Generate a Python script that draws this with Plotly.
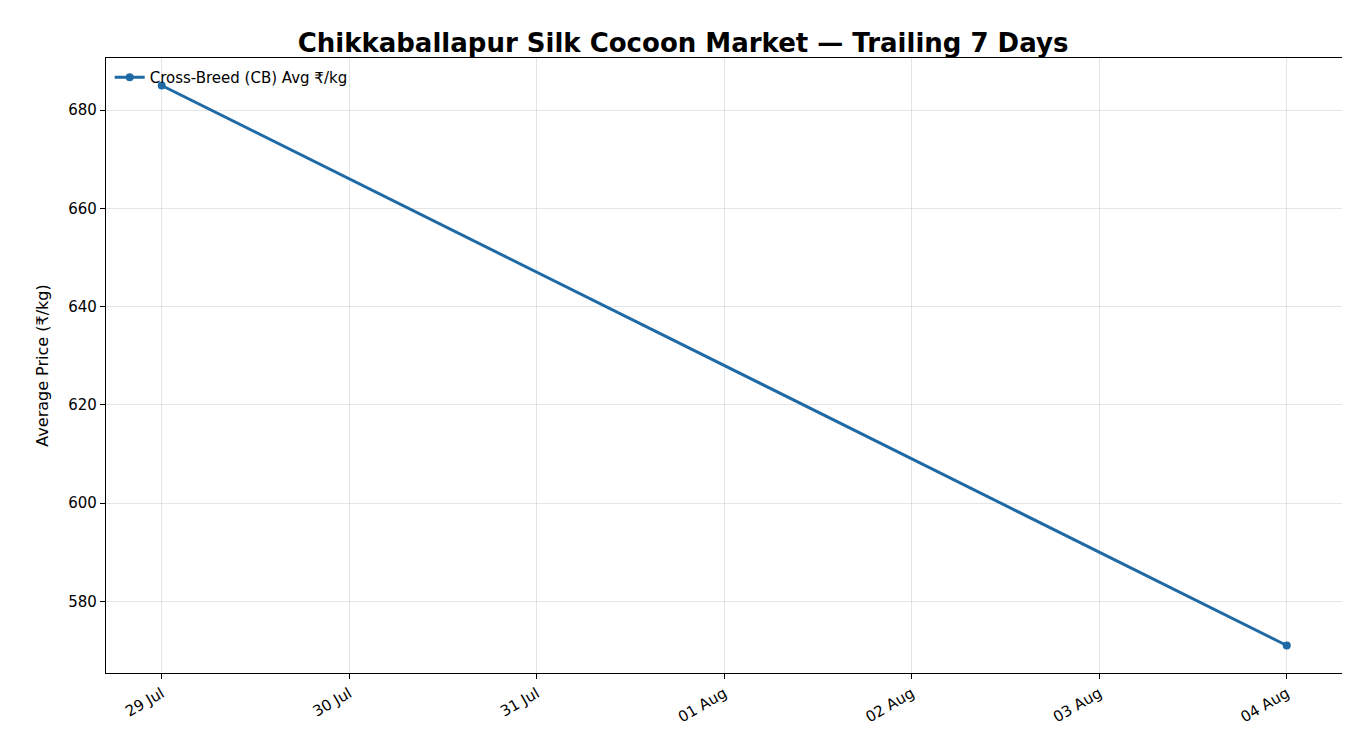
import plotly.graph_objects as go

dates = ["2025-07-29", "2025-08-04"]
prices = [685, 571]
tick_vals = ["2025-07-29", "2025-07-30", "2025-07-31", "2025-08-01", "2025-08-02", "2025-08-03", "2025-08-04"]
tick_text = ["29 Jul", "30 Jul", "31 Jul", "01 Aug", "02 Aug", "03 Aug", "04 Aug"]

fig = go.Figure()
fig.add_trace(go.Scatter(x=dates, y=prices, mode="lines+markers",
                         name="Cross-Breed (CB) Avg ₹/kg",
                         line=dict(color="#1f6aa5", width=3),
                         marker=dict(size=8, color="#1f6aa5")))
axis = dict(showline=True, linecolor="black", linewidth=1.2, mirror=True,
            showgrid=True, gridcolor="rgba(0,0,0,0.1)", ticks="outside",
            ticklen=5, tickcolor="black", zeroline=False,
            tickfont=dict(size=15, color="black"))
fig.update_layout(
    width=1350, height=750, paper_bgcolor="white", plot_bgcolor="white",
    font=dict(family="DejaVu Sans", color="black"),
    title=dict(text="<b>Chikkaballapur Silk Cocoon Market — Trailing 7 Days</b>",
               x=0.5, xanchor="center", y=0.953, yanchor="middle", font=dict(size=26)),
    margin=dict(l=98, r=15, t=50, b=85),
    showlegend=True,
    legend=dict(x=0.003, y=0.995, xanchor="left", yanchor="top",
                bgcolor="rgba(255,255,255,0)", font=dict(size=15)),
    xaxis=dict(axis, type="date", range=["2025-07-28 16:52", "2025-08-04 07:12"],
               tickvals=tick_vals, ticktext=tick_text, tickangle=-30),
    yaxis=dict(axis, range=[565.4, 690.6], tickvals=[580, 600, 620, 640, 660, 680],
               title=dict(text="Average Price (₹/kg)", font=dict(size=16))),
)
fig.write_html("out.html")
